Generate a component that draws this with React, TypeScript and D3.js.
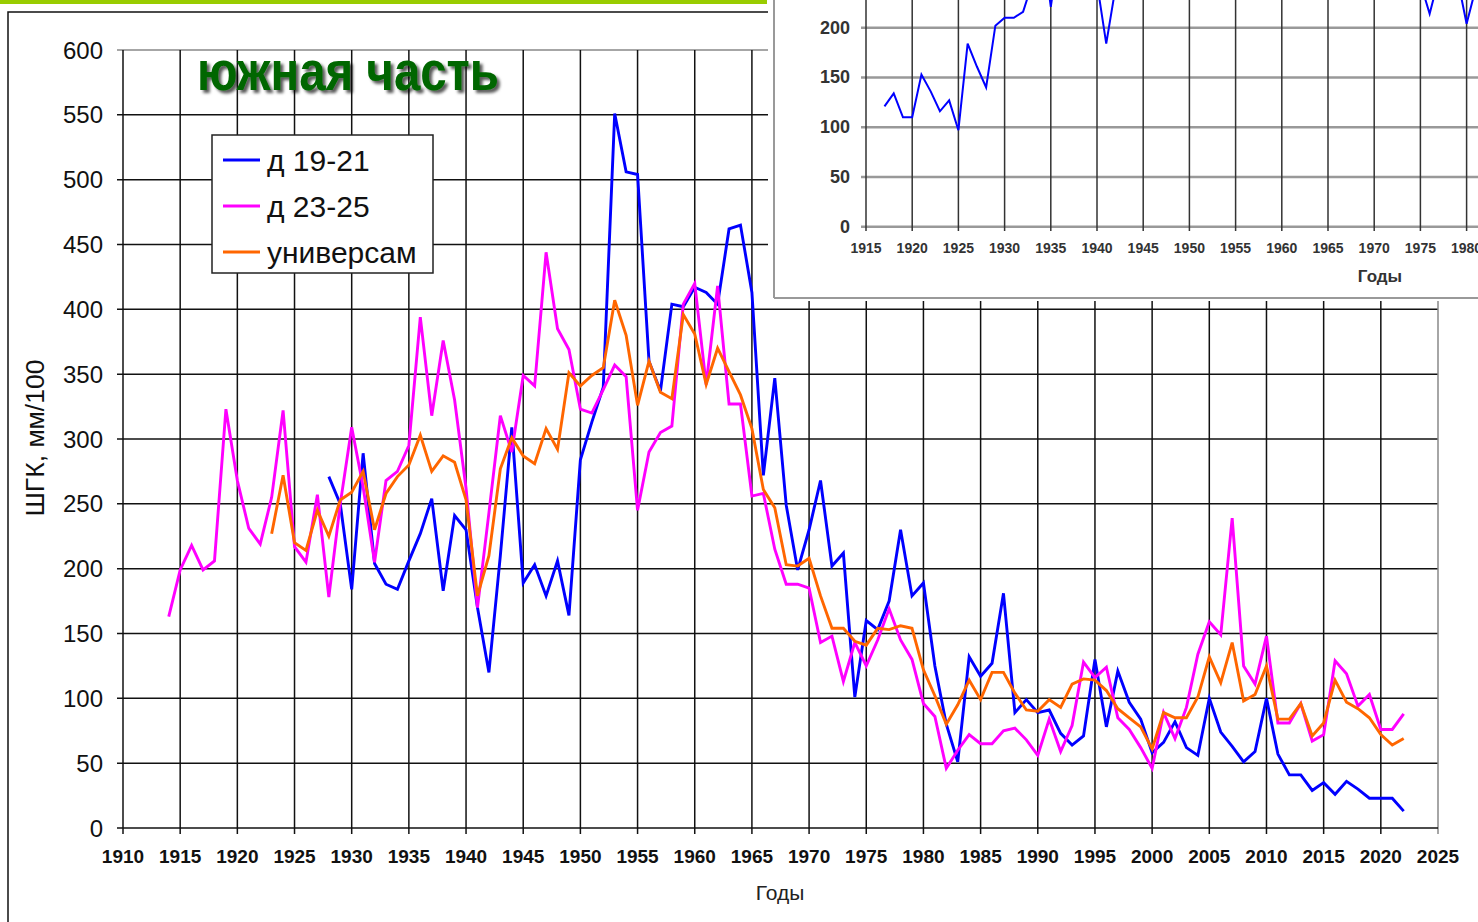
import React from "react";
import * as d3 from "d3";

// ---- data ----
const yearsD1921 = d3.range(1928, 2023);
const d1921 = [
  271, 250, 184, 289, 204, 188, 184, 206, 227, 254, 183, 241, 230, 170, 120, 210, 309, 189, 203, 179,
  206, 164, 284, 313, 340, 551, 506, 504, 360, 337, 404, 402, 417, 413, 404, 462, 465, 413, 272, 347,
  249, 199, 230, 268, 202, 212, 101, 160, 153, 175, 230, 179, 189, 125, 80, 51, 132, 117, 127, 181,
  89, 99, 89, 91, 73, 64, 71, 130, 78, 121, 97, 84, 58, 66, 82, 62, 56, 100, 74, 63,
  51, 59, 100, 57, 41, 41, 29, 35, 26, 36, 30, 23, 23, 23, 13,
];

const yearsD2325 = d3.range(1914, 2023);
const d2325 = [
  163, 199, 218, 199, 206, 323, 268, 231, 219, 255, 322, 217, 205, 257, 178, 250, 309, 263, 205, 268,
  275, 295, 394, 318, 376, 330, 262, 170, 243, 318, 290, 349, 341, 444, 385, 369, 323, 320, 338, 357,
  348, 245, 290, 305, 310, 404, 420, 342, 418, 327, 327, 256, 258, 215, 188, 188, 185, 143, 148, 113,
  143, 125, 145, 169, 145, 130, 96, 86, 46, 60, 72, 65, 65, 75, 77, 68, 56, 84, 59, 79,
  128, 116, 124, 85, 76, 62, 46, 89, 69, 93, 134, 159, 149, 239, 125, 111, 148, 81, 81, 96,
  67, 72, 129, 119, 94, 103, 76, 76, 88,
];

const yearsUniv = d3.range(1923, 2023);
const univ = [
  227, 272, 220, 214, 245, 225, 253, 259, 275, 230, 258, 271, 280, 303, 275, 287, 282, 253, 179, 210,
  277, 301, 287, 281, 308, 292, 351, 341, 349, 355, 407, 380, 326, 360, 336, 331, 396, 381, 342, 370,
  352, 334, 308, 261, 247, 203, 202, 208, 179, 154, 154, 144, 141, 154, 153, 156, 154, 122, 102, 80,
  95, 114, 99, 120, 120, 104, 91, 90, 99, 93, 111, 115, 114, 106, 92, 85, 78, 61, 89, 85,
  85, 101, 132, 112, 143, 98, 103, 125, 84, 84, 96, 71, 81, 114, 97, 92, 85, 72, 64, 69,
];

// inset (partly hidden above the window top)
const yearsInset = d3.range(1917, 1982);
const inset = [
  121, 134, 110, 110, 153, 136, 116, 127, 97, 184, 161, 140, 202, 210, 210, 216, 245, 290, 221, 285,
  262, 300, 275, 245, 184, 240, 268, 310, 290, 335, 380, 350, 330, 300, 320, 360, 420, 400, 390, 330,
  310, 350, 360, 370, 360, 355, 400, 410, 380, 290, 320, 280, 260, 270, 300, 265, 270, 250, 245, 214,
  250, 280, 250, 204, 240,
];

const yTicks = d3.range(0, 601, 50);
const xTicks = d3.range(1910, 2026, 5);
const insetYTicks = [0, 50, 100, 150, 200];
const insetXTicks = d3.range(1915, 1981, 5);

const seriesNames = ["д 19-21", "д 23-25", "универсам"];
const seriesColors = ["#0000ff", "#ff00ff", "#ff6600"];

const FONT = "'Liberation Sans', Arial, sans-serif";

const App = () => {
  const x = d3.scaleLinear().domain([1910, 2025]).range([123, 1438]);
  const y = d3.scaleLinear().domain([0, 600]).range([828, 50]);

  const line = d3.line<[number, number]>()
    .x(d => x(d[0]))
    .y(d => y(d[1]));

  const series = [
    yearsD1921.map((yr, i) => [yr, d1921[i]] as [number, number]),
    yearsD2325.map((yr, i) => [yr, d2325[i]] as [number, number]),
    yearsUniv.map((yr, i) => [yr, univ[i]] as [number, number]),
  ];

  const ix = d3.scaleLinear().domain([1915, 1980]).range([866, 1466.6]);
  const iy = d3.scaleLinear().domain([0, 200]).range([226.7, 27.7]);
  const insetLine = d3.line<number>()
    .x((d, i) => ix(yearsInset[i]))
    .y(d => iy(d));

  return (
    <svg width={1478} height={922} style={{position: "absolute", left: 0, top: 0, background: "#fff"}}
      fontFamily={FONT}>
      <defs>
        <filter id="shadow" x="-10%" y="-30%" width="130%" height="160%">
          <feDropShadow dx="3" dy="3" stdDeviation="1.5" floodColor="#000" floodOpacity="0.65" />
        </filter>
        <clipPath id="insetClip">
          <rect x={776} y={0} width={710} height={297} />
        </clipPath>
      </defs>

      {/* green bar + outer frame */}
      <rect x={0} y={0} width={767} height={4} fill="#99cc00" />
      <rect x={8} y={12} width={1500} height={950} fill="none" stroke="#111" strokeWidth={1.5} />

      {/* grid */}
      {yTicks.filter(t => t > 0 && t < 600).map(t => (
        <line key={"h" + t} x1={117} x2={1438} y1={y(t)} y2={y(t)} stroke="#111" strokeWidth={1.5} />
      ))}
      <line x1={117} x2={1438} y1={y(600)} y2={y(600)} stroke="#888" strokeWidth={1.5} />
      {xTicks.filter(t => t > 1910 && t < 2025).map(t => (
        <line key={"v" + t} x1={x(t)} x2={x(t)} y1={50} y2={834} stroke="#111" strokeWidth={1.5} />
      ))}
      <line x1={x(2025)} x2={x(2025)} y1={50} y2={834} stroke="#888" strokeWidth={1.5} />
      <line x1={123} x2={123} y1={50} y2={834} stroke="#111" strokeWidth={1.5} />
      <line x1={117} x2={1438} y1={828} y2={828} stroke="#111" strokeWidth={1.5} />

      {/* y labels */}
      {yTicks.map(t => (
        <text key={"yl" + t} x={103} y={y(t)} textAnchor="end" dominantBaseline="central"
          fontSize={24} fill="#111">{t}</text>
      ))}
      {/* x labels */}
      {xTicks.map(t => (
        <text key={"xl" + t} x={x(t)} y={863} textAnchor="middle" fontSize={19} fontWeight="bold"
          fill="#111">{t}</text>
      ))}
      <text x={780} y={900} textAnchor="middle" fontSize={21} fill="#222">Годы</text>
      <text transform="translate(44,438) rotate(-90)" textAnchor="middle" fontSize={26} fill="#111"
        textLength={157} lengthAdjust="spacingAndGlyphs">ШГК, мм/100</text>

      {/* series */}
      {series.map((s, i) => (
        <path key={"s" + i} d={line(s) || ""} fill="none" stroke={seriesColors[i]} strokeWidth={2.9}
          strokeLinejoin="miter" />
      ))}

      {/* title */}
      <text x={197} y={90} fontSize={55} fontWeight="bold" fill="#006600" filter="url(#shadow)"
        textLength={302} lengthAdjust="spacingAndGlyphs">южная часть</text>

      {/* legend */}
      <rect x={212} y={135} width={221} height={138} fill="#fff" stroke="#222" strokeWidth={1.5} />
      {seriesNames.map((n, i) => (
        <g key={"lg" + i}>
          <line x1={223} x2={260} y1={160 + i * 46} y2={160 + i * 46} stroke={seriesColors[i]} strokeWidth={2.9} />
          <text x={267} y={160 + i * 46} dominantBaseline="central" fontSize={30} fill="#111">{n}</text>
        </g>
      ))}

      {/* inset chart */}
      <rect x={768} y={0} width={720} height={301} fill="#fff" />
      <line x1={774} x2={774} y1={0} y2={298} stroke="#999" strokeWidth={2} />
      <line x1={774} x2={1478} y1={298} y2={298} stroke="#999" strokeWidth={2} />
      {insetYTicks.map(t => (
        <line key={"ih" + t} x1={861} x2={1478} y1={iy(t)} y2={iy(t)} stroke="#999" strokeWidth={2.5} />
      ))}
      {insetXTicks.map(t => (
        <line key={"iv" + t} x1={ix(t)} x2={ix(t)} y1={0} y2={231} stroke="#333" strokeWidth={1.5} />
      ))}
      {insetYTicks.map(t => (
        <text key={"iyl" + t} x={850} y={iy(t)} textAnchor="end" dominantBaseline="central" fontSize={18}
          fontWeight="bold" fill="#333">{t}</text>
      ))}
      {insetXTicks.map(t => (
        <text key={"ixl" + t} x={ix(t)} y={253} textAnchor="middle" fontSize={14} fontWeight="bold"
          fill="#333">{t}</text>
      ))}
      <text x={1380} y={282} textAnchor="middle" fontSize={17} fontWeight="bold" fill="#333">Годы</text>
      <path d={insetLine(inset) || ""} fill="none" stroke="#0000ff" strokeWidth={2} clipPath="url(#insetClip)" />
    </svg>
  );
};

export default App;
